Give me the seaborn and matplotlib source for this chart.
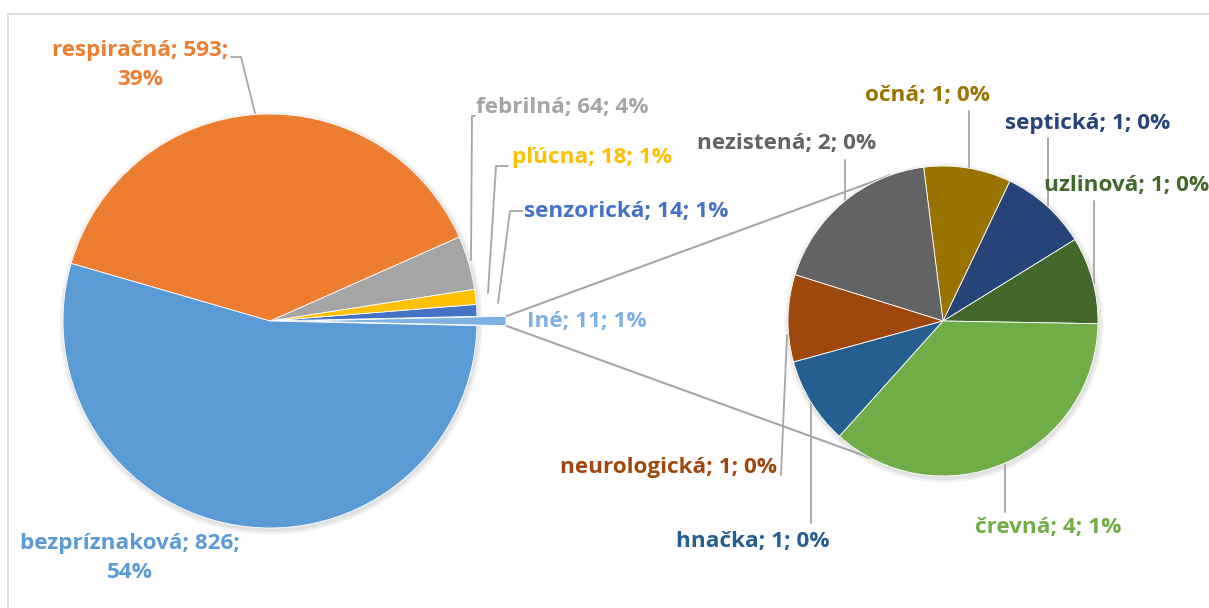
import numpy as np
import matplotlib
matplotlib.use("Agg")
from matplotlib import pyplot as plt
from matplotlib.patches import Circle
import seaborn as sns

# main pie (Iné first, counter-clockwise from the right)
main_labels = ["Iné", "senzorická", "pľúcna", "febrilná", "respiračná", "bezpríznaková"]
main_values = [11, 14, 18, 64, 593, 826]
main_pcts = ["1%", "1%", "1%", "4%", "39%", "54%"]
main_colors = ["#7EB1E1", "#4472C4", "#FFC000", "#A5A5A5", "#ED7D31", "#5B9BD5"]

# secondary pie = breakdown of "Iné"
sub_labels = ["uzlinová", "septická", "očná", "nezistená", "neurologická", "hnačka", "črevná"]
sub_values = [1, 1, 1, 2, 1, 1, 4]
sub_pcts = ["0%", "0%", "0%", "0%", "0%", "0%", "1%"]
sub_colors = ["#43682B", "#264478", "#997300", "#636363", "#9E480E", "#255E91", "#70AD47"]

W, H = 1209, 608


def Y(y):
    # picture rows -> axes y
    return H - y


sns.set_theme(style="white")
plt.rcParams["font.family"] = ["Open Sans", "DejaVu Sans"]

fig = plt.figure(figsize=(W / 100, H / 100), dpi=100)
ax = fig.add_axes([0, 0, 1, 1])

c1, r1 = (270, Y(321)), 207
c2, r2 = (943, Y(321)), 155

# soft shadow under both pies
for c, r in [(c1, r1), (c2, r2)]:
    for k in range(1, 6):
        ax.add_patch(Circle((c[0] + 1, c[1] - 2), r + k, color="#000000",
                            alpha=0.025, lw=0, zorder=0.1))

half = 360 * main_values[0] / sum(main_values) / 2
w1, _ = ax.pie(main_values, colors=main_colors, startangle=-half, counterclock=True,
               center=c1, radius=r1, explode=[29, 0, 0, 0, 0, 0], frame=True,
               wedgeprops=dict(linewidth=0.6, edgecolor="white"))
w2, _ = ax.pie(sub_values, colors=sub_colors, startangle=-1, counterclock=True,
               center=c2, radius=r2, frame=True,
               wedgeprops=dict(linewidth=0.6, edgecolor="white"))

# connector lines between "Iné" and the second pie
ine = w1[0]
cx, cy = ine.center
for th_a, th_b in [(ine.theta2, 110), (ine.theta1, 242)]:
    x0 = cx + ine.r * np.cos(np.radians(th_a))
    y0 = cy + ine.r * np.sin(np.radians(th_a))
    x1 = c2[0] + r2 * np.cos(np.radians(th_b))
    y1 = c2[1] + r2 * np.sin(np.radians(th_b))
    ax.plot([x0, x1], [y0, y1], color="#A6A6A6", lw=1.5, zorder=0.5)

lead = "#A6A6A6"
fs = 16.2

# label layout: x, y, ha and leader polyline (picture coords)
main_pos = {
    "Iné": (527, 321, "left", None),
    "senzorická": (524, 212, "left", [(522, 211), (510, 211), (498, 303)]),
    "pľúcna": (512, 158, "left", [(508, 166), (496, 166), (488, 293)]),
    "febrilná": (476, 107, "left", [(475, 116), (472, 116), (471, 260)]),
    "respiračná": (140, 65, "center", [(231, 57), (241, 57), (255, 113)]),
    "bezpríznaková": (130, 558, "center", None),
}
sub_pos = {
    "uzlinová": (1044, 185, "left", [(1094, 201), (1094, 284)]),
    "septická": (1005, 124, "left", [(1048, 138), (1048, 206)]),
    "očná": (865, 96, "left", [(969, 111), (969, 168)]),
    "nezistená": (697, 143, "left", [(845, 160), (845, 201)]),
    "neurologická": (777, 467, "right", [(781, 475), (787, 335)]),
    "hnačka": (676, 542, "left", [(811, 523), (811, 402)]),
    "črevná": (975, 528, "left", [(1005, 512), (1005, 465)]),
}


def put(lab, val, pct, col, pos):
    x, y, ha, line = pos
    if lab in ("respiračná", "bezpríznaková"):
        txt = f"{lab}; {val};\n{pct}"
    else:
        txt = f"{lab}; {val}; {pct}"
    ax.text(x, Y(y), txt, color=col, fontsize=fs, fontweight="bold", ha=ha,
            va="center", multialignment="center", linespacing=1.5, clip_on=False)
    if line:
        xs, ys = zip(*line)
        ax.plot(xs, [Y(v) for v in ys], color=lead, lw=1.3, zorder=0.6)


for lab, val, pct, col in zip(main_labels, main_values, main_pcts, main_colors):
    put(lab, val, pct, col, main_pos[lab])
for lab, val, pct, col in zip(sub_labels, sub_values, sub_pcts, sub_colors):
    put(lab, val, pct, col, sub_pos[lab])

# chart area border (only the top and left edges are visible)
ax.plot([8, 8, W + 5], [-5, Y(14), Y(14)], color="#D9D9D9", lw=1.2)

ax.set_xlim(0, W)
ax.set_ylim(0, H)
ax.set_aspect("equal")
ax.axis("off")

fig.savefig("out.png", dpi=100)
